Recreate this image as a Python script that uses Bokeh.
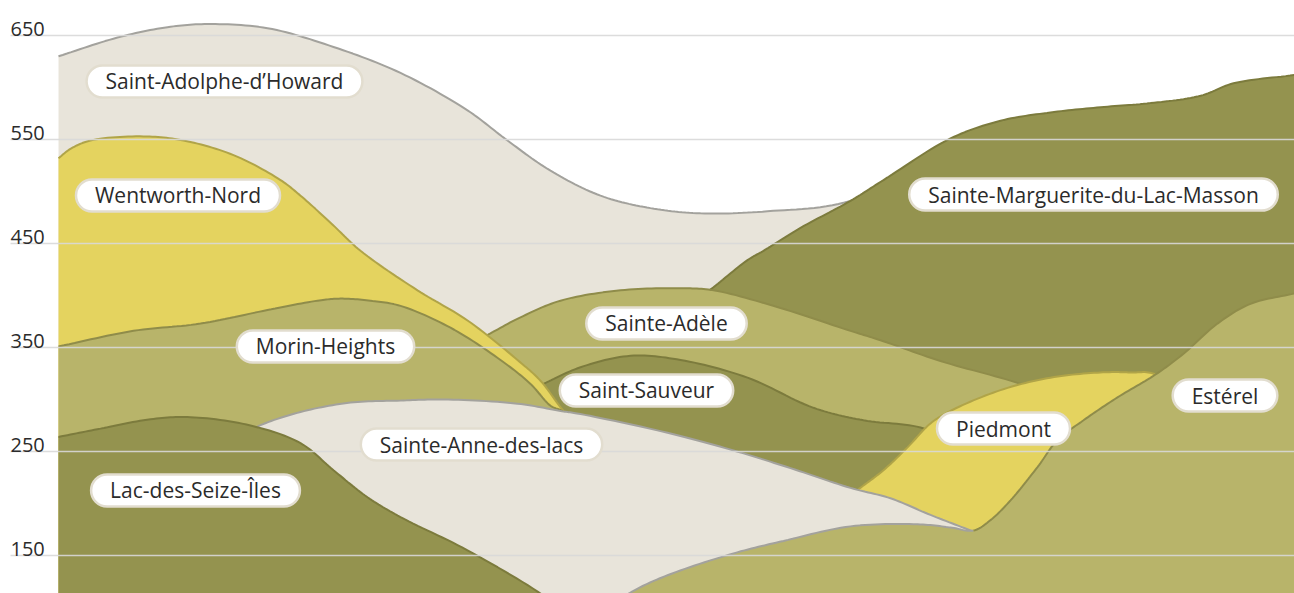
import numpy as np
from bokeh.plotting import figure
from bokeh.models import Range1d
from bokeh.core.properties import value
from bokeh.embed import file_html
from bokeh.resources import INLINE

# ---- data: distance along the panorama (arbitrary units) and elevation (m) ----
ticks = [150, 250, 350, 450, 550, 650]
tick_labels = ["150", "250", "350", "450", "550", "650"]

adolphe_x = [0, 59, 109, 149, 209, 275, 342, 409, 449, 492, 542, 592, 642, 709, 792, 892, 992, 1092, 1157, 1236]
adolphe_y = [630, 648, 658, 661, 657, 639, 614, 578, 549, 520, 496, 484, 479, 481, 491, 539, 568, 578, 591, 606]

marguerite_x = [637, 655, 689, 705, 742, 792, 825, 892, 942, 992, 1042, 1092, 1142, 1175, 1236]
marguerite_y = [395, 408, 434, 443, 465, 491, 511, 551, 568, 576, 581, 585, 592, 604, 612]

adele_x = [427, 462, 502, 562, 622, 655, 722, 792, 822, 882, 959, 1042, 1142, 1236]
adele_y = [361, 379, 395, 405, 407, 405, 388, 366, 357, 337, 316, 287, 232, 184]

sauveur_x = [485, 522, 572, 622, 689, 755, 805, 862, 902, 942, 992]
sauveur_y = [315, 331, 342, 338, 321, 292, 280, 273, 256, 222, 164]

wentworth_x = [0, 12, 32, 85, 125, 175, 222, 242, 272, 302, 359, 409, 459, 482, 505, 542, 592]
wentworth_y = [532, 541, 549, 553, 549, 535, 511, 496, 470, 443, 405, 376, 338, 318, 289, 251, 145]

morin_x = [0, 75, 142, 209, 259, 282, 312, 342, 392, 442, 472, 492, 505, 542, 592]
morin_y = [351, 366, 373, 386, 395, 397, 395, 390, 369, 338, 315, 294, 288, 241, 107]

piedmont_x = [799, 825, 849, 872, 892, 942, 992, 1042, 1072, 1097, 1142, 1236]
piedmont_y = [213, 232, 254, 277, 289, 309, 321, 326, 326, 324, 280, 241]

anne_x = [182, 199, 242, 292, 342, 385, 459, 502, 522, 609, 675, 732, 792, 832, 872, 915]
anne_y = [264, 274, 288, 297, 299, 300, 296, 289, 286, 268, 251, 234, 215, 205, 189, 173]

esterel_x = [542, 575, 609, 675, 725, 792, 859, 892, 915, 932, 952, 979, 999, 1025, 1059, 1097, 1125, 1159, 1192, 1236]
esterel_y = [95, 116, 131, 152, 164, 178, 180, 177, 174, 184, 203, 235, 261, 280, 302, 324, 344, 373, 392, 402]

lac_x = [0, 42, 92, 132, 192, 242, 275, 309, 342, 409, 487, 502]
lac_y = [264, 272, 281, 283, 275, 258, 232, 206, 187, 155, 110, 97]

label_names = ["Saint-Adolphe-d\u2019Howard", "Wentworth-Nord", "Morin-Heights", "Lac-des-Seize-\u00celes",
               "Sainte-Anne-des-lacs", "Sainte-Ad\u00e8le", "Saint-Sauveur",
               "Sainte-Marguerite-du-Lac-Masson", "Piedmont", "Est\u00e9rel"]
label_x = [166, 119.5, 267, 137, 423, 608, 588, 1035, 945, 1166.5]
label_y = [605.8, 496.2, 351.0, 212.5, 256.7, 373.1, 308.7, 497.1, 272.1, 303.8]

# ---- styles ----
BEIGE, YELLOW, LOLIVE, DOLIVE = "#e8e4da", "#e4d35f", "#b8b46a", "#94934f"
GRAY_L, YELLOW_L, LOLIVE_L, DOLIVE_L = "#a3a29d", "#b0a448", "#8f8c4a", "#7c7b3d"
BASE = 60

p = figure(width=1294, height=593, output_backend="svg", toolbar_location=None,
           x_range=Range1d(-58, 1236), y_range=Range1d(113.46, 683.65),
           x_axis_type=None, y_axis_type=None, min_border=0)
p.grid.visible = False
p.outline_line_color = None
p.background_fill_color = "white"
p.border_fill_color = "white"


def smooth(xs, ys, n=14):
    P = np.column_stack([np.asarray(xs, float), np.asarray(ys, float) * 1.04])
    P = np.vstack([2 * P[0] - P[1], P, 2 * P[-1] - P[-2]])
    out = []
    for i in range(1, len(P) - 2):
        p0, p1, p2, p3 = P[i - 1], P[i], P[i + 1], P[i + 2]

        def tj(ti, a, b):
            return ti + max(np.hypot(*(b - a)), 1e-6) ** 0.5
        t0 = 0.0
        t1 = tj(t0, p0, p1)
        t2 = tj(t1, p1, p2)
        t3 = tj(t2, p2, p3)
        ts = np.linspace(t1, t2, n, endpoint=False)[:, None]
        A1 = (t1 - ts) / (t1 - t0) * p0 + (ts - t0) / (t1 - t0) * p1
        A2 = (t2 - ts) / (t2 - t1) * p1 + (ts - t1) / (t2 - t1) * p2
        A3 = (t3 - ts) / (t3 - t2) * p2 + (ts - t2) / (t3 - t2) * p3
        B1 = (t2 - ts) / (t2 - t0) * A1 + (ts - t0) / (t2 - t0) * A2
        B2 = (t3 - ts) / (t3 - t1) * A2 + (ts - t1) / (t3 - t1) * A3
        out.append((t2 - ts) / (t2 - t1) * B1 + (ts - t1) / (t2 - t1) * B2)
    out.append(P[-2][None, :])
    C = np.vstack(out)
    return C[:, 0], C[:, 1] / 1.04


def hill(xs, ys, fill, line, split=None, line2=None):
    sx, sy = smooth(xs, ys)
    p.patch(np.r_[sx, sx[-1], sx[0]], np.r_[sy, BASE, BASE],
            fill_color=fill, line_color=None)
    if split is None:
        p.line(sx, sy, line_color=line, line_width=2)
    else:
        m1 = sx <= split
        m2 = sx >= split
        p.line(sx[m1], sy[m1], line_color=line, line_width=2)
        p.line(sx[m2], sy[m2], line_color=line2, line_width=2)


hill(adolphe_x, adolphe_y, BEIGE, GRAY_L)
hill(marguerite_x, marguerite_y, DOLIVE, DOLIVE_L)
hill(adele_x, adele_y, LOLIVE, LOLIVE_L)
hill(sauveur_x, sauveur_y, DOLIVE, DOLIVE_L)
hill(wentworth_x, wentworth_y, YELLOW, YELLOW_L)
hill(morin_x, morin_y, LOLIVE, LOLIVE_L)
hill(piedmont_x, piedmont_y, YELLOW, YELLOW_L)
hill(anne_x, anne_y, BEIGE, GRAY_L)
hill(esterel_x, esterel_y, LOLIVE, GRAY_L, split=anne_x[-1], line2=LOLIVE_L)
hill(lac_x, lac_y, DOLIVE, DOLIVE_L)

# gridlines on top of the hills
p.segment(x0=[-48] * len(ticks), x1=[1236] * len(ticks), y0=ticks, y1=ticks,
          line_color="#d8d8d8", line_width=1.5, line_alpha=0.9)

# tick labels
p.text(x=[-48] * len(ticks), y=ticks, text=tick_labels, text_align="left",
       text_baseline="alphabetic", y_offset=-6, text_font=value("Open Sans"),
       text_font_size="20px", text_color="#2b2b2b")

# name labels
p.text(x=label_x, y=label_y, text=label_names, text_align="center",
       text_baseline="middle", text_font=value("Open Sans"), text_font_size="21px",
       text_color="#2b2b2b", background_fill_color="white",
       border_line_color="#e2ddcf", border_line_width=2.5, border_radius=17,
       padding=dict(left=19, right=19, top=2, bottom=2))

open("out.html", "w").write(file_html(p, INLINE))
